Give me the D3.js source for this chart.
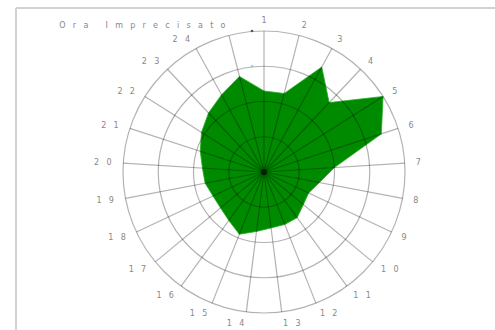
<!DOCTYPE html>
<html>
<head>
<meta charset="utf-8">
<script src="https://cdn.jsdelivr.net/npm/d3@7"></script>
<style>
  html, body { margin: 0; padding: 0; background: #fff; }
  svg { display: block; }
  text { font-family: "DejaVu Sans", sans-serif; }
</style>
</head>
<body>
<svg id="chart" width="495" height="330"></svg>
<script>
// Categories (hours + unknown hour)
const categories = ["1","2","3","4","5","6","7","8","9","10","11","12","13","14","15","16","17","18","19","20","21","22","23","24","Ora Imprecisato"];
// Series values
const values = [23, 23, 34, 27, 40, 35, 20, 16, 14, 14.5, 16, 16, 16, 17, 19, 17, 16, 16, 17, 17.5, 19, 21, 23, 25, 28];
// Radial ring tick values
const ringTicks = [10, 20, 30, 40];

const svg = d3.select("#chart");
const W = 495, H = 330;
const cx = 264, cy = 172, R = 141;
const LS = 7.3; // letter spacing

// frame
svg.append("line").attr("x1", 16).attr("x2", W).attr("y1", 8).attr("y2", 8)
  .attr("stroke", "#d2d2d2").attr("stroke-width", 2);
svg.append("line").attr("x1", 16).attr("x2", 16).attr("y1", 8).attr("y2", H)
  .attr("stroke", "#d2d2d2").attr("stroke-width", 2);

const g = svg.append("g").attr("transform", `translate(${cx},${cy})`);

const angle = d3.scaleBand().domain(categories).range([0, 2 * Math.PI]).align(0).paddingInner(0).paddingOuter(0);
const ang = c => angle(c);
const r = d3.scaleLinear().domain([0, d3.max(ringTicks)]).range([0, R]);

// data polygon
const line = d3.lineRadial()
  .angle((d, i) => ang(categories[i]))
  .radius(d => r(d))
  .curve(d3.curveLinearClosed);
g.append("path").datum(values).attr("d", line)
  .attr("fill", "#008a00").attr("stroke", "#22b022").attr("stroke-width", 0.8);

// rings
g.selectAll("circle.ring").data(ringTicks).join("circle")
  .attr("class", "ring").attr("r", d => r(d))
  .attr("fill", "none").attr("stroke", "#000").attr("stroke-opacity", 0.3).attr("stroke-width", 1.2);

// spokes
g.selectAll("line.spoke").data(categories).join("line")
  .attr("class", "spoke")
  .attr("x1", 0).attr("y1", 0)
  .attr("x2", d => R * Math.sin(ang(d)))
  .attr("y2", d => -R * Math.cos(ang(d)))
  .attr("stroke", "#000").attr("stroke-opacity", 0.3).attr("stroke-width", 1.2);

// small tick markers on the first spoke
g.selectAll("circle.tk").data(ringTicks.slice(2)).join("circle")
  .attr("class", "tk")
  .attr("cx", -12).attr("cy", d => -r(d))
  .attr("r", 1.3).attr("fill", d => d === 40 ? "#555" : "#9cc");

g.append("circle").attr("r", 3).attr("fill", "#002000");

// labels
const LR = 152;
const anchorOf = d => {
  const s = Math.sin(ang(d));
  return s > 0.1 ? "start" : (s < -0.1 ? "end" : "middle");
};
g.selectAll("text.lab").data(categories).join("text")
  .attr("class", "lab")
  .attr("x", d => LR * Math.sin(ang(d)) + (anchorOf(d) === "end" ? LS * 0.9 : anchorOf(d) === "middle" ? LS / 2 : 0))
  .attr("y", d => -LR * Math.cos(ang(d)) + 3)
  .attr("text-anchor", anchorOf)
  .attr("font-size", 8)
  .attr("letter-spacing", LS)
  .attr("fill", "#888")
  .text(d => d);
</script>
</body>
</html>
